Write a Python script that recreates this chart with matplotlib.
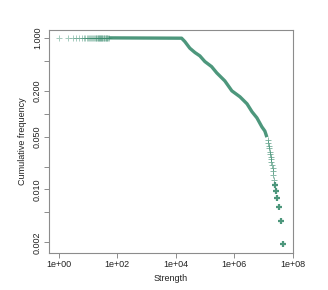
import matplotlib
matplotlib.use("Agg")
import matplotlib.pyplot as plt
from matplotlib.ticker import FixedLocator, FixedFormatter, NullLocator

plt.rcParams['font.family'] = ['Liberation Sans', 'DejaVu Sans']

# low strengths: individual points, all at cumulative frequency ~1
low_strength = [1, 2, 3, 4, 5, 6, 7, 8, 9, 10, 11, 12, 13, 14, 15, 16, 17, 18,
                19, 20, 21, 22, 23, 24, 25, 26, 27, 28, 29, 30, 32, 34, 36, 38,
                40, 42, 44, 46, 48, 50]
low_freq = [1.0] * len(low_strength)

# dense body of the distribution
body_strength = [50, 1.57e4, 2.03e4, 3.0e4, 4.5e4, 6.6e4, 9.8e4, 1.66e5, 2.5e5,
                 4.7e5, 8.2e5, 1.55e6, 2.7e6, 4.0e6, 5.9e6, 8.7e6, 1.1e7, 1.29e7]
body_freq = [1.0, 0.99, 0.893, 0.731, 0.640, 0.579, 0.487, 0.418, 0.345,
             0.271, 0.200, 0.167, 0.135, 0.106, 0.088, 0.067, 0.059, 0.049]

# upper tail: sparse points
tail_strength = [4.6e7, 3.9e7, 3.3e7, 2.9e7, 2.6e7, 2.45e7, 2.25e7, 2.15e7,
                 2.08e7, 2.02e7, 1.95e7, 1.85e7, 1.78e7, 1.72e7, 1.66e7,
                 1.62e7, 1.58e7, 1.52e7, 1.45e7, 1.38e7]
tail_freq = [0.0019, 0.0038, 0.0058, 0.0077, 0.0096, 0.0115, 0.0135, 0.0154,
             0.0173, 0.0192, 0.021, 0.023, 0.025, 0.027, 0.029, 0.031, 0.035,
             0.038, 0.041, 0.045]

xticks = [1e0, 1e2, 1e4, 1e6, 1e8]
xticklabels = ['1e+00', '1e+02', '1e+04', '1e+06', '1e+08']
yticks = [0.002, 0.005, 0.01, 0.02, 0.05, 0.1, 0.2, 0.5, 1.0]
yticklabels = ['0.002', '', '0.010', '', '0.050', '', '0.200', '', '1.000']

col = '#3a8c6e'
grey = '#8c8c8c'

fig = plt.figure(figsize=(3.28, 2.90), dpi=100)
ax = fig.add_axes([0.149, 0.128, 0.744, 0.769])

ax.plot(body_strength, body_freq, color=col, lw=2.4, alpha=0.9,
        solid_capstyle='butt', solid_joinstyle='round')
ax.plot(low_strength, low_freq, ls='none', marker='+', ms=4, mew=0.7,
        color=col, alpha=0.45)
ax.plot(tail_strength[6:], tail_freq[6:], ls='none', marker='+', ms=4, mew=0.7,
        color=col, alpha=0.6)
ax.plot(tail_strength[:6], tail_freq[:6], ls='none', marker='+', ms=4.5, mew=1.6,
        color=col, alpha=0.9)

ax.set_xscale('log')
ax.set_yscale('log')
ax.set_xlim(10 ** -0.34, 10 ** 8.0)
ax.set_ylim(10 ** -2.836, 10 ** 0.1055)

ax.xaxis.set_major_locator(FixedLocator(xticks))
ax.xaxis.set_major_formatter(FixedFormatter(xticklabels))
ax.xaxis.set_minor_locator(NullLocator())
ax.yaxis.set_major_locator(FixedLocator(yticks))
ax.yaxis.set_major_formatter(FixedFormatter(yticklabels))
ax.yaxis.set_minor_locator(NullLocator())

ax.tick_params(length=3.5, width=0.7, color=grey, labelsize=6.5,
               labelcolor='#222222', pad=1.5)
for lab in ax.get_yticklabels():
    lab.set_rotation(90)
    lab.set_va('center')

for s in ax.spines.values():
    s.set_color(grey)
    s.set_linewidth(0.8)

ax.set_xlabel('Strength', fontsize=6.5, color='#222222', labelpad=4)
ax.set_ylabel('Cumulative frequency', fontsize=6.5, color='#222222', labelpad=4)

fig.savefig('out.png', dpi=100)
